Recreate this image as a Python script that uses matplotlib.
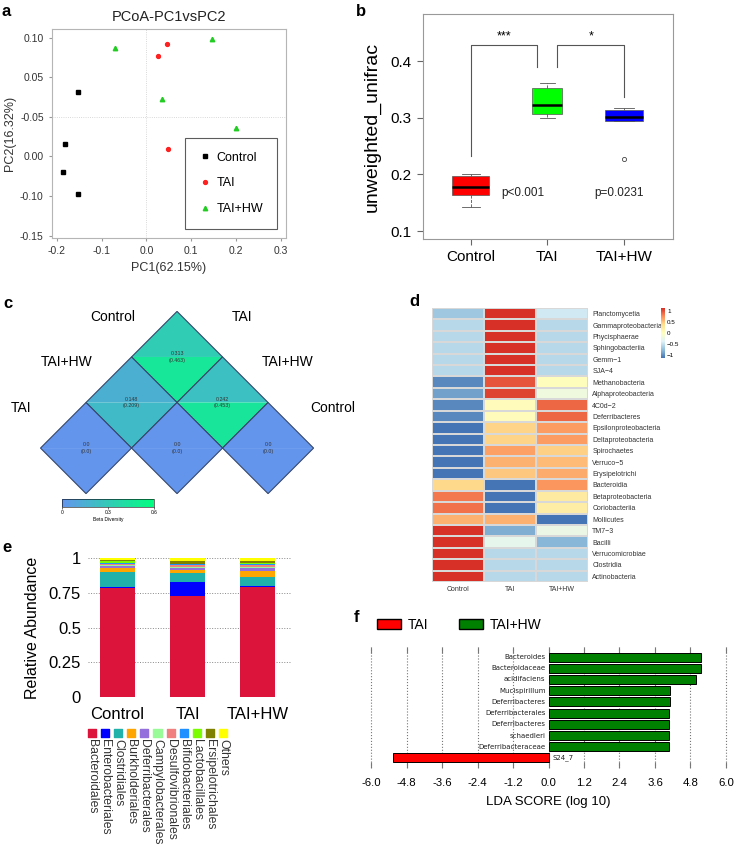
import matplotlib.pyplot as plt
import numpy as np
from matplotlib.patches import Polygon, Patch
from matplotlib.colors import LinearSegmentedColormap, Normalize
from matplotlib.cm import ScalarMappable

plt.rcParams['font.family'] = ['Liberation Sans', 'DejaVu Sans']

W, H = 736, 849


def box(l, t, r, b):
    # pixel box -> figure fraction
    return [l / W, 1 - b / H, (r - l) / W, (b - t) / H]


groups = ['Control', 'TAI', 'TAI+HW']

# a - PCoA
pc1_control = [-0.152, -0.182, -0.186, -0.152]
pc2_control = [0.032, -0.034, -0.069, -0.097]
pc1_tai = [0.047, 0.027, 0.049]
pc2_tai = [0.092, 0.077, -0.040]
pc1_hw = [-0.070, 0.146, 0.034, 0.200]
pc2_hw = [0.087, 0.098, 0.023, -0.014]
pcoa_xticks = [-0.2, -0.1, 0.0, 0.1, 0.2, 0.3]
pcoa_xlabels = ['-0.2', '-0.1', '0.0', '0.1', '0.2', '0.3']
pcoa_yticks = [0.10, 0.05, 0.0, -0.05, -0.10, -0.15]
pcoa_ylabels = ['0.10', '0.05', '-0.05', '0.00', '-0.10', '-0.15']

# b - unweighted unifrac boxplots
box_whislo = [0.142, 0.299, 0.295]
box_q1 = [0.163, 0.307, 0.295]
box_med = [0.178, 0.323, 0.301]
box_q3 = [0.197, 0.353, 0.314]
box_whishi = [0.200, 0.361, 0.318]
box_fliers = [[], [], [0.227]]
box_colors = ['#ff0000', '#00ff00', '#0000ff']

# c - beta diversity triangle
beta_upper = [[0.313], [0.148, 0.242], [0.0, 0.0, 0.0]]
beta_lower = [[0.463], [0.209, 0.453], [0.0, 0.0, 0.0]]
beta_left = ['Control', 'TAI+HW', 'TAI']
beta_right = ['TAI', 'TAI+HW', 'Control']

# d - heatmap
heat_rows = ['Planctomycetia', 'Gammaproteobacteria', 'Phycisphaerae', 'Sphingobacteriia',
             'Gemm\u22121', 'SJA\u22124', 'Methanobacteria', 'Alphaproteobacteria', '4C0d\u22122',
             'Deferribacteres', 'Epsilonproteobacteria', 'Deltaproteobacteria', 'Spirochaetes',
             'Verruco\u22125', 'Erysipelotrichi', 'Bacteroidia', 'Betaproteobacteria',
             'Coriobacteriia', 'Mollicutes', 'TM7\u22123', 'Bacilli', 'Verrucomicrobiae',
             'Clostridia', 'Actinobacteria']
heat_control = [-0.70, -0.58, -0.58, -0.58, -0.58, -0.58, -1.05, -0.92, -1.05, -1.05, -1.15, -1.15,
                -1.15, -1.15, -1.15, 0.42, 0.85, 0.88, 0.60, 1.15, 1.15, 1.15, 1.15, 1.15]
heat_tai = [1.15, 1.15, 1.15, 1.15, 1.15, 1.15, 0.99, 1.07, 0.03, 0.03, 0.44, 0.44,
            0.68, 0.60, 0.50, -1.15, -1.15, -1.15, 0.60, -0.85, -0.30, -0.58, -0.58, -0.58]
heat_hw = [-0.45, -0.58, -0.58, -0.58, -0.58, -0.58, 0.02, -0.20, 0.92, 0.92, 0.70, 0.70,
           0.45, 0.55, 0.62, 0.72, 0.25, 0.22, -1.15, -0.25, -0.80, -0.58, -0.58, -0.58]

# e - relative abundance (orders)
orders = ['Bacteroidales', 'Enterobacteriales', 'Clostridiales', 'Burkholderiales',
          'Deferribacterales', 'Campylobacterales', 'Desulfovibrionales', 'Bifidobacteriales',
          'Lactobacillales', 'Ersipelotrichales', 'Others']
order_colors = ['#dc143c', '#0000ff', '#20b2aa', '#ffa500', '#9370db', '#98fb98',
                '#f08080', '#1e90ff', '#7cfc00', '#808000', '#ffff00']
abund_control = [0.784, 0.004, 0.109, 0.034, 0.008, 0.010, 0.006, 0.010, 0.012, 0.008, 0.015]
abund_tai = [0.725, 0.099, 0.071, 0.020, 0.012, 0.010, 0.010, 0.008, 0.005, 0.020, 0.020]
abund_hw = [0.794, 0.008, 0.063, 0.042, 0.018, 0.012, 0.012, 0.008, 0.008, 0.017, 0.018]

# f - LEfSe LDA
lda_features = ['Bacteroides', 'Bacteroidaceae', 'acidifaciens', 'Mucispirillum', 'Deferribacteres',
                'Deferribacterales', 'Deferribacteres', 'schaedleri', 'Deferribacteraceae', 'S24_7']
lda_scores = [5.17, 5.17, 5.00, 4.10, 4.10, 4.07, 4.07, 4.07, 4.06, -5.25]
lda_ticks = [-6.0, -4.8, -3.6, -2.4, -1.2, 0.0, 1.2, 2.4, 3.6, 4.8, 6.0]

fig = plt.figure(figsize=(W / 100, H / 100), dpi=100)

# ---------------- a ----------------
axa = fig.add_axes(box(52, 29, 286, 238))
axa.axhline(0, color='#cccccc', lw=0.6, ls=':')
axa.axvline(0, color='#cccccc', lw=0.6, ls=':')
axa.plot(pc1_control, pc2_control, 's', color='black', ms=2.8, ls='none', label='Control')
axa.plot(pc1_tai, pc2_tai, 'o', color='#ff2020', ms=2.8, ls='none', label='TAI')
axa.plot(pc1_hw, pc2_hw, '^', color='#22cc22', ms=3.2, ls='none', label='TAI+HW')
axa.set_xlim(-0.211, 0.312)
axa.set_ylim(-0.153, 0.111)
axa.set_xticks(pcoa_xticks, pcoa_xlabels)
axa.set_yticks(pcoa_yticks, pcoa_ylabels)
axa.tick_params(labelsize=7.5, length=2.5, color='#999999', colors='#333333')
for s in axa.spines.values():
    s.set_color('#b5b5b5')
axa.set_title('PCoA-PC1vsPC2', fontsize=10.5, pad=6, color='#222222')
axa.set_xlabel('PC1(62.15%)', fontsize=9, labelpad=4, color='#333333')
axa.set_ylabel('PC2(16.32%)', fontsize=9, labelpad=3, color='#333333')
leg = axa.legend(loc='lower right', bbox_to_anchor=(0.987, 0.014), fontsize=9,
                 frameon=True, fancybox=False, labelspacing=1.1, borderpad=1.1,
                 handletextpad=0.4, handlelength=1.0)
leg.get_frame().set_edgecolor('#333333')
leg.get_frame().set_linewidth(0.8)

# ---------------- b ----------------
axb = fig.add_axes(box(423, 14, 673, 239))
stats = []
for i in range(3):
    stats.append(dict(whislo=box_whislo[i], q1=box_q1[i], med=box_med[i], q3=box_q3[i],
                      whishi=box_whishi[i], fliers=box_fliers[i]))
bp = axb.bxp(stats, positions=[1, 2, 3], widths=[0.48, 0.39, 0.5], patch_artist=True,
             boxprops=dict(lw=0.5, edgecolor='#555555'),
             whiskerprops=dict(ls='--', lw=0.6, color='#555555'),
             capprops=dict(lw=0.6, color='#555555'),
             medianprops=dict(color='black', lw=1.8),
             flierprops=dict(marker='o', mfc='none', mec='#444444', ms=3, mew=0.6),
             manage_ticks=False)
for patch, c in zip(bp['boxes'], box_colors):
    patch.set_facecolor(c)
axb.set_xlim(0.377, 3.64)
axb.set_ylim(0.086, 0.483)
axb.set_xticks([1, 2, 3], groups)
axb.set_yticks([0.1, 0.2, 0.3, 0.4], ['0.1', '0.2', '0.3', '0.4'])
axb.tick_params(labelsize=11, length=4, color='#666666', pad=4)
for s in axb.spines.values():
    s.set_color('#999999')
axb.set_ylabel('unweighted_unifrac', fontsize=14, labelpad=7)
br = dict(color='#555555', lw=0.8)
axb.plot([1.0, 1.0, 1.87, 1.87], [0.232, 0.428, 0.428, 0.39], **br)
axb.plot([2.13, 2.13, 3.0, 3.0], [0.39, 0.428, 0.428, 0.336], **br)
axb.text(1.43, 0.432, '***', ha='center', va='bottom', fontsize=9)
axb.text(2.57, 0.432, '*', ha='center', va='bottom', fontsize=9)
axb.text(1.4, 0.168, 'p<0.001', ha='left', va='center', fontsize=8.5, color='#222222')
axb.text(2.93, 0.168, 'p=0.0231', ha='center', va='center', fontsize=8.5, color='#222222')

# ---------------- c ----------------
axc = fig.add_axes(box(0, 295, 370, 500))
axc.set_xlim(-3.89, 4.24)
axc.set_ylim(-3.14, 1.36)
axc.axis('off')
beta_cmap = LinearSegmentedColormap.from_list('beta', ['#6495ed', '#00ff7f'])
beta_norm = Normalize(0, 0.6)
for r, (ups, lows) in enumerate(zip(beta_upper, beta_lower)):
    for k, (u, lo) in enumerate(zip(ups, lows)):
        cx, cy = 2 * k - r, -r
        axc.add_patch(Polygon([(cx - 1, cy), (cx, cy + 1), (cx + 1, cy)],
                              fc=beta_cmap(beta_norm(u)), ec='none'))
        axc.add_patch(Polygon([(cx - 1, cy), (cx, cy - 1), (cx + 1, cy)],
                              fc=beta_cmap(beta_norm(lo)), ec='none'))
        axc.add_patch(Polygon([(cx - 1, cy), (cx, cy + 1), (cx + 1, cy), (cx, cy - 1)],
                              fill=False, ec='#34466a', lw=0.8))
        axc.text(cx, cy, f'{u}\n({lo})', ha='center', va='center', fontsize=3.8,
                 color='#333333', linespacing=1.3)
for r, (lt, rt) in enumerate(zip(beta_left, beta_right)):
    axc.text(-r - 0.5 - 0.92, -r + 0.5 + 0.38, lt, ha='center', va='center', fontsize=10)
    axc.text(r + 0.5 + 0.92, -r + 0.5 + 0.38, rt, ha='center', va='center', fontsize=10)

caxc = fig.add_axes(box(62, 499, 154, 507))
cbc = fig.colorbar(ScalarMappable(beta_norm, beta_cmap), cax=caxc, orientation='horizontal',
                   ticks=[0, 0.3, 0.6])
cbc.ax.set_xticklabels(['0', '0.3', '0.6'])
cbc.ax.tick_params(labelsize=3.5, length=1.5, width=0.4, pad=1)
cbc.set_label('Beta Diversity', fontsize=3.5, labelpad=1)
cbc.outline.set_linewidth(0.4)

# ---------------- d ----------------
heat_cmap = LinearSegmentedColormap.from_list(
    'phm', ['#4575b4', '#91bfdb', '#e0f3f8', '#ffffbf', '#fee090', '#fc8d59', '#d73027'])
heat = np.array([heat_control, heat_tai, heat_hw]).T
axd = fig.add_axes(box(432, 308, 588, 582))
mesh = axd.pcolormesh(heat, cmap=heat_cmap, vmin=-1.15, vmax=1.15,
                      edgecolors='#d8d8d8', linewidth=0.3)
axd.set_ylim(len(heat_rows), 0)
axd.set_xticks(np.arange(3) + 0.5, groups)
axd.set_yticks(np.arange(len(heat_rows)) + 0.5, heat_rows)
axd.yaxis.tick_right()
axd.tick_params(length=0, labelsize=5, pad=3, colors='#333333')
for s in axd.spines.values():
    s.set_visible(False)

caxd = fig.add_axes(box(661, 308, 665, 358))
cbd = fig.colorbar(mesh, cax=caxd, ticks=[-1, -0.5, 0, 0.5, 1])
cbd.ax.set_yticklabels(['\u22121', '\u22120.5', '0', '0.5', '1'])
cbd.ax.tick_params(labelsize=4.5, length=0, pad=1.5)
cbd.outline.set_visible(False)

# ---------------- e ----------------
axe = fig.add_axes(box(88, 558, 292, 697))
x = np.arange(3)
bottom = np.zeros(3)
for i, (name, col) in enumerate(zip(orders, order_colors)):
    vals = np.array([abund_control[i], abund_tai[i], abund_hw[i]])
    axe.bar(x, vals, bottom=bottom, width=0.5, color=col, label=name)
    bottom += vals
axe.set_xlim(-0.42, 2.49)
axe.set_ylim(0, 1.0)
axe.set_yticks([0, 0.25, 0.5, 0.75, 1], ['0', '0.25', '0.5', '0.75', '1'])
axe.set_xticks(x, groups)
axe.grid(axis='y', ls=':', color='#888888', lw=0.7)
axe.set_axisbelow(True)
axe.tick_params(length=0, labelsize=12, pad=5)
axe.tick_params(axis='x', pad=7)
for s in axe.spines.values():
    s.set_visible(False)
axe.set_ylabel('Relative Abundance', fontsize=11.5, labelpad=6)

axl = fig.add_axes(box(85.45, 725, 229.55, 849))
axl.set_xlim(-0.5, len(orders) - 0.5)
axl.set_ylim(0, 1)
axl.axis('off')
axl.scatter(np.arange(len(orders)), [0.935] * len(orders), marker='s', s=34, c=order_colors)
for k, name in enumerate(orders):
    axl.text(k, 0.885, name, rotation=270, ha='center', va='top', fontsize=8.8, color='#333333')

# ---------------- f ----------------
axf = fig.add_axes(box(365.1, 647, 731.9, 768))
ypos = np.arange(len(lda_features))[::-1]
fcols = ['#ff0000' if v < 0 else '#008000' for v in lda_scores]
axf.barh(ypos, lda_scores, height=0.8, color=fcols, edgecolor='black', lw=0.7, zorder=3)
for yv, name, v in zip(ypos, lda_features, lda_scores):
    if v > 0:
        axf.text(-0.1, yv, name, ha='right', va='center', fontsize=5, family='DejaVu Sans',
                 color='#222222', zorder=4)
    else:
        axf.text(0.15, yv, name, ha='left', va='center', fontsize=5, family='DejaVu Sans',
                 color='#222222', zorder=4)
axf.set_xlim(-6.2, 6.2)
axf.set_ylim(-0.9, len(lda_features) - 0.1)
axf.set_xticks(lda_ticks, [f'{v:.1f}' for v in lda_ticks])
axf.set_yticks([])
axf.grid(axis='x', ls=':', color='#777777', lw=0.8)
axf.tick_params(axis='x', top=True, bottom=True, direction='in', length=4, color='#777777',
                labelsize=8.2, pad=7)
for s in axf.spines.values():
    s.set_visible(False)
axf.set_xlabel('LDA SCORE (log 10)', fontsize=9.5, labelpad=6)
axf.legend(handles=[Patch(fc='#ff0000', ec='black', label='TAI'),
                    Patch(fc='#008000', ec='black', label='TAI+HW')],
           loc='center left', bbox_to_anchor=(0.03, 1.18), ncol=2, frameon=False,
           fontsize=10, handlelength=1.7, handleheight=0.7, columnspacing=2.2,
           handletextpad=0.5, borderaxespad=0, borderpad=0.1)

# panel letters
for letter, px, py in [('a', 2, 4), ('b', 356, 4), ('c', 3, 296), ('d', 409, 294),
                       ('e', 2, 540), ('f', 354, 610)]:
    fig.text(px / W, 1 - py / H, letter, fontsize=12, fontweight='bold', ha='left', va='top')

fig.savefig('out.png', dpi=100)
